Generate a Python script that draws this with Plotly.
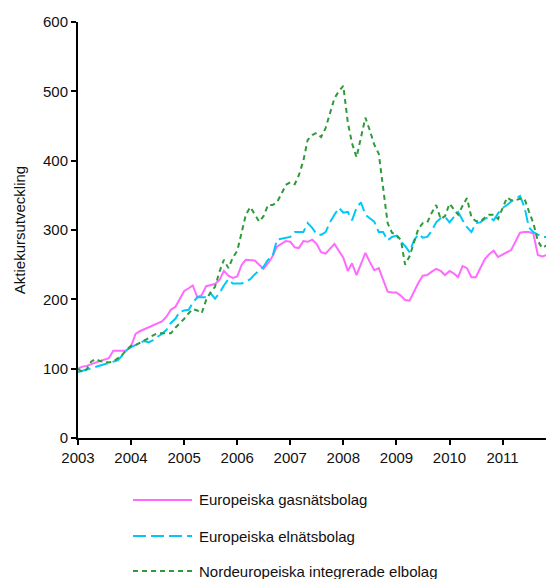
import pandas as pd
import plotly.graph_objects as go

# Monthly index values (Jan 2003 = 100), Jan 2003 - Nov 2011
months = pd.date_range("2003-01-01", periods=107, freq="MS")

gas_network = [
    100, 103, 104, 106, 108, 111, 113, 115, 126, 126, 126, 126,
    132, 150, 154, 157, 160, 163, 166, 168, 175, 185, 189, 200,
    212, 216, 220, 203, 206, 219, 221, 222, 228, 241, 234, 231,
    233, 250, 257, 257, 256, 250, 244, 252, 262, 276, 280, 284,
    283, 275, 274, 284, 283, 286, 280, 268, 266, 273, 280, 270,
    260, 241, 252, 235, 251, 267, 254, 242, 245, 227, 211, 210,
    210, 205, 199, 198, 211, 224, 234, 235, 240, 244, 241, 235,
    241, 237, 232, 248, 245, 232, 232, 245, 258, 265, 270, 261,
    264, 268, 271, 283, 296, 297, 297, 295, 264, 262, 264,
]

power_network = [
    95, 97, 98, 100, 102, 104, 106, 108, 110, 112, 119, 127,
    131, 134, 137, 140, 138, 141, 146, 150, 156, 166, 172, 182,
    184, 185, 195, 203, 203, 203, 209, 201, 209, 220, 229, 223,
    223, 223, 226, 229, 236, 242, 247, 257, 262, 286, 287, 289,
    290, 297, 297, 297, 310, 303, 294, 293, 297, 311, 322, 332,
    325, 326, 314, 332, 340, 322, 317, 312, 297, 297, 285, 290,
    292, 283, 277, 268, 285, 294, 289, 290, 299, 311, 317, 319,
    311, 319, 326, 314, 304, 297, 310, 311, 316, 319, 314, 324,
    332, 336, 341, 345, 349, 333, 304, 297, 293, 290, 290,
]

nordic_integrated = [
    100, 95, 99, 110, 114, 111, 110, 109, 110, 115, 120, 127,
    133, 134, 137, 140, 144, 148, 151, 151, 151, 151, 159, 165,
    172, 180, 186, 184, 180, 199, 210, 218, 240, 257, 245, 260,
    270, 297, 322, 333, 322, 312, 320, 336, 336, 340, 352, 365,
    369, 366, 379, 400, 430, 437, 440, 434, 447, 470, 490, 500,
    508, 455, 425, 405, 435, 462, 444, 423, 410, 360, 310, 296,
    293, 285, 250, 262, 282, 302, 310, 311, 325, 336, 316, 320,
    338, 330, 322, 335, 346, 318, 313, 312, 318, 322, 322, 316,
    333, 347, 343, 343, 345, 345, 327, 310, 284, 274, 278,
]

series_names = [
    "Europeiska gasnätsbolag",
    "Europeiska elnätsbolag",
    "Nordeuropeiska integrerade elbolag",
]
series_values = [gas_network, power_network, nordic_integrated]
series_colors = ["#FF6AFF", "#00C8FA", "#2E9A3A"]
series_dash = ["solid", "13px,5px", "5px,4px"]

y_ticks = [0, 100, 200, 300, 400, 500, 600]
x_tick_years = [str(y) for y in range(2003, 2012)]

FONT = "Liberation Sans, Arial, sans-serif"

fig = go.Figure()
for name, vals, col, dash in zip(series_names, series_values, series_colors, series_dash):
    fig.add_trace(go.Scatter(
        x=months, y=vals, name=name, mode="lines",
        line=dict(color=col, width=2, dash=dash),
        showlegend=False,
    ))

# Legend drawn below the chart: long line samples followed by the labels
legend_rows_px = [500, 536, 571]
plot_top, plot_bottom, plot_left, plot_w = 22, 438, 78, 468
for name, col, dash, row in zip(series_names, series_colors, series_dash, legend_rows_px):
    yp = (plot_bottom - row) / (plot_bottom - plot_top)
    fig.add_shape(
        type="line", xref="paper", yref="paper",
        x0=(133 - plot_left) / plot_w, x1=(192 - plot_left) / plot_w, y0=yp, y1=yp,
        line=dict(color=col, width=2, dash=dash),
    )
    fig.add_annotation(
        xref="paper", yref="paper", x=(197 - plot_left) / plot_w, y=yp,
        text=name, showarrow=False, xanchor="left", yanchor="middle",
        font=dict(family=FONT, size=15, color="#111111"),
    )

fig.update_layout(
    width=546, height=579,
    margin=dict(l=78, r=0, t=22, b=141),
    paper_bgcolor="white", plot_bgcolor="white",
    font=dict(family=FONT, size=15, color="#111111"),
    showlegend=False,
)
fig.update_xaxes(
    type="date",
    range=["2003-01-01", "2011-10-27"],
    tickvals=[f"{y}-01-01" for y in x_tick_years],
    ticktext=x_tick_years,
    showgrid=False, zeroline=False,
    showline=True, linecolor="black", linewidth=2,
    ticks="outside", ticklen=5, tickwidth=1.5, tickcolor="black",
    tickfont=dict(family=FONT, size=15, color="#111111"),
)
fig.update_yaxes(
    range=[0, 600],
    tickvals=y_ticks,
    showgrid=False, zeroline=False,
    showline=True, linecolor="black", linewidth=2,
    ticks="outside", ticklen=5, tickwidth=1.5, tickcolor="black",
    tickfont=dict(family=FONT, size=15, color="#111111"),
    title=dict(text="Aktiekursutveckling", font=dict(family=FONT, size=15, color="#111111"), standoff=14),
)

fig.write_html("out.html")
